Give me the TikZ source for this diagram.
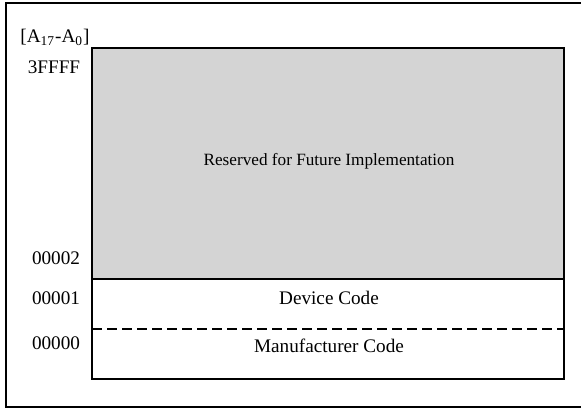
\documentclass[tikz,border=0pt]{standalone}
\usepackage{fontspec}
\setmainfont{Liberation Serif}

\begin{document}
\begin{tikzpicture}[x=0.5pt,y=-0.5pt,
    addr/.style={font=\fontsize{9.6}{11}\selectfont},
    field/.style={font=\fontsize{9.6}{11}\selectfont}]
    % Fix the page size
    \useasboundingbox (0,0) rectangle (581,410);

    % Draw the outer frame
    \draw[line width=1pt] (581,3) -- (6,3) -- (6,407) -- (581,407);

    % Fill the reserved region
    \fill[black!17] (92,48) rectangle (564,279);

    % Draw the memory map
    \draw[line width=0.8pt] (92,48) rectangle (564,379);
    \draw[line width=0.7pt] (92,279) -- (564,279);
    \draw[line width=0.7pt, dash pattern=on 5pt off 2.5pt] (92,329) -- (564,329);

    % Add the address labels
    \node[addr] (range) at (55,37) {[A\textsubscript{17}-A\textsubscript{0}]};
    \node[addr] (top) at (54,67) {3FFFF};
    \node[addr] (a2) at (56,258) {00002};
    \node[addr] (a1) at (56,298) {00001};
    \node[addr] (a0) at (56,343) {00000};

    % Add the field labels
    \node[font=\fontsize{8.6}{10}\selectfont] (reserved) at (329,161) {Reserved for Future Implementation};
    \node[field] (device) at (329,298) {Device Code};
    \node[field] (manuf) at (329,346) {Manufacturer Code};
\end{tikzpicture}
\end{document}
